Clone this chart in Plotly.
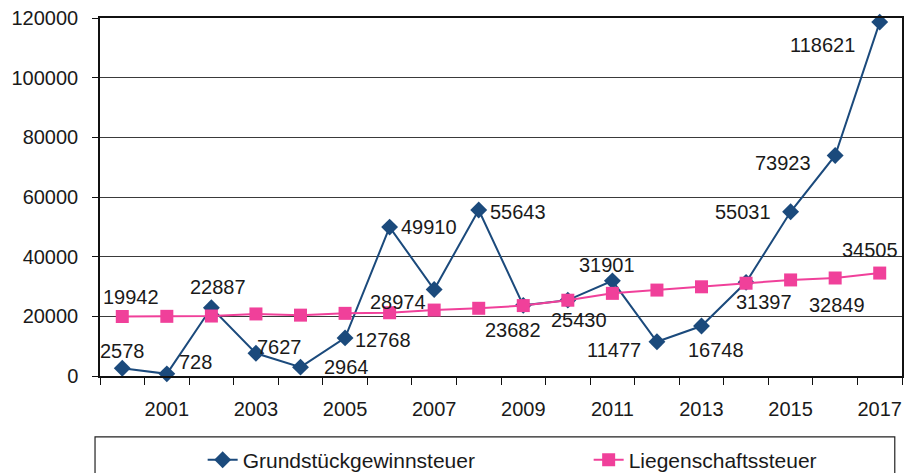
import plotly.graph_objects as go

years = [2000, 2001, 2002, 2003, 2004, 2005, 2006, 2007, 2008,
         2009, 2010, 2011, 2012, 2013, 2014, 2015, 2016, 2017]
grundstueck = [2578, 728, 22887, 7627, 2964, 12768, 49910, 28974, 55643,
               23682, 25430, 31901, 11477, 16748, 31397, 55031, 73923, 118621]
liegenschaft = [19942, 20000, 20100, 20800, 20400, 21000, 21200, 22100, 22700,
                23600, 25400, 27700, 28800, 29900, 31100, 32200, 32849, 34505]
liegenschaft_labelled_years = [2000, 2016, 2017]
x_tick_years = [2001, 2003, 2005, 2007, 2009, 2011, 2013, 2015, 2017]
y_ticks = [0, 20000, 40000, 60000, 80000, 100000, 120000]

# label offsets (pixels) relative to each point: (dx right, dy down)
g_offsets = [(0, -17), (29, -12), (7, -21), (24, -6), (46, 0), (38, 2),
             (39, 0), (-36, 12), (39, 2), (-10, 25), (11, 20), (-5, -16),
             (-43, 8), (14, 24), (18, 20), (-48, 0), (-52, 8), (-57, 23)]
l_offsets = {2000: (9, -20), 2016: (2, 27), 2017: (-10, -23)}

blue = "#1B4A7C"
pink = "#F0409A"
font_family = "Liberation Sans, Arial, sans-serif"
label_font = dict(size=20, color="#1a1a1a", family=font_family)

fig = go.Figure()
fig.add_trace(go.Scatter(
    x=years, y=grundstueck, name="Grundstückgewinnsteuer",
    mode="lines+markers",
    line=dict(color=blue, width=2),
    marker=dict(symbol="diamond", size=13, color=blue),
    cliponaxis=False,
))
fig.add_trace(go.Scatter(
    x=years, y=liegenschaft, name="Liegenschaftssteuer",
    mode="lines+markers",
    line=dict(color=pink, width=2),
    marker=dict(symbol="square", size=13, color=pink),
    cliponaxis=False,
))

annotations = []
for yr, val, (dx, dy) in zip(years, grundstueck, g_offsets):
    annotations.append(dict(x=yr, y=val, text=str(val), showarrow=False,
                            xshift=dx, yshift=-dy, font=label_font,
                            xanchor="center", yanchor="middle"))
for yr, val in zip(years, liegenschaft):
    if yr in liegenschaft_labelled_years:
        dx, dy = l_offsets[yr]
        annotations.append(dict(x=yr, y=val, text=str(val), showarrow=False,
                                xshift=dx, yshift=-dy, font=label_font,
                                xanchor="center", yanchor="middle"))

fig.update_layout(
    width=905, height=473,
    margin=dict(l=100, r=3, t=18, b=97, autoexpand=False),
    paper_bgcolor="white", plot_bgcolor="white",
    font=dict(family=font_family, size=20, color="#1a1a1a"),
    showlegend=True,
    legend=dict(
        orientation="h", x=0.128, xanchor="left", y=-0.235, yanchor="middle",
        font=dict(size=21, color="#1a1a1a"),
        entrywidth=341, entrywidthmode="pixels",
        bgcolor="rgba(0,0,0,0)",
    ),
    annotations=annotations,
    shapes=[dict(type="rect", xref="paper", yref="paper",
                 x0=-0.0062, x1=0.991, y0=-0.17, y1=-0.32,
                 line=dict(color="#222", width=1.2), fillcolor="rgba(0,0,0,0)",
                 layer="below")],
)
fig.update_xaxes(
    range=[1999.5, 2017.5],
    tickvals=x_tick_years, ticktext=[str(y) for y in x_tick_years],
    ticks="", showgrid=False, zeroline=False,
    showline=True, linecolor="#111", linewidth=1.5, mirror=True,
    ticklabelstandoff=14,
    minor=dict(tickvals=[y - 0.5 for y in years] + [years[-1] + 0.5],
               ticks="outside", ticklen=7, tickcolor="#111", tickwidth=1.2,
               showgrid=False),
)
fig.update_yaxes(
    range=[0, 120000], tickvals=y_ticks, ticktext=[str(v) for v in y_ticks],
    ticks="outside", ticklen=6, tickcolor="#111",
    showgrid=True, gridcolor="#3a3a3a", gridwidth=1,
    zeroline=False, showline=True, linecolor="#111", linewidth=1.5, mirror=True,
    ticklabelstandoff=10,
)

fig.write_html("out.html", config={"displayModeBar": False},
               post_script="document.body.style.margin='0';document.body.style.overflow='hidden';")
